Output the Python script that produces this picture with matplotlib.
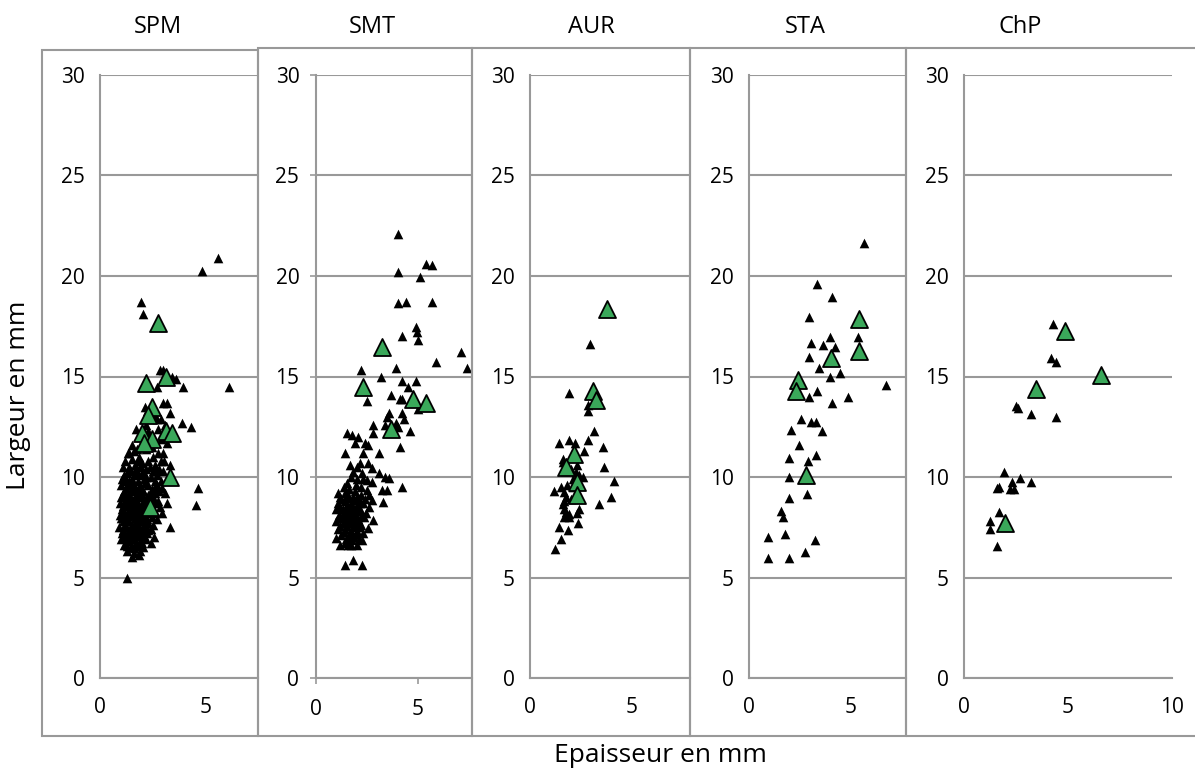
import numpy as np
import matplotlib
matplotlib.use("Agg")
import matplotlib.pyplot as plt
from matplotlib.patches import Rectangle

# ---- data (epaisseur, largeur) ----
spm_black = [
    (5.6, 20.9), (4.86, 20.25), (1.95, 18.7), (2.05, 18.1), (2.86, 15.3), (3.0, 15.3),
    (3.43, 15.0), (3.6, 14.9), (2.7, 14.5), (3.95, 14.5), (6.1, 14.5), (3.2, 13.7),
    (3.0, 13.7), (2.14, 13.5), (3.33, 13.2), (3.9, 12.7), (4.3, 12.5), (4.67, 9.45),
    (4.57, 8.6), (3.3, 7.5), (1.29, 5.0), (1.86, 6.1),
    (2.6, 13.0), (2.9, 12.9), (2.2, 12.6), (2.75, 12.4), (3.1, 12.6), (1.7, 12.4),
    (2.3, 12.3), (2.9, 11.9), (3.5, 12.0), (2.6, 11.8), (1.9, 11.5), (1.4, 11.2),
    (1.6, 11.3), (2.2, 11.4), (3.0, 11.2), (2.5, 11.0), (1.33, 11.2), (2.6, 10.6),
    (3.33, 10.6), (2.95, 9.45), (3.2, 8.7), (2.95, 8.2),
    (1.2, 10.8), (1.5, 10.9), (1.8, 10.8), (2.0, 10.7), (2.3, 10.8), (1.1, 10.5),
    (1.4, 10.5), (1.7, 10.4), (1.9, 10.5), (2.2, 10.4), (2.5, 10.3), (2.8, 10.4),
    (3.0, 10.3), (1.3, 10.2), (1.6, 10.1), (2.0, 10.1), (2.4, 10.0), (2.7, 10.1),
    (1.05, 9.9), (1.5, 9.9), (1.8, 9.8), (2.1, 9.9), (2.9, 9.8),
    (1.0, 9.6), (1.3, 9.6), (1.6, 9.5), (1.9, 9.6), (2.3, 9.6), (2.6, 9.5),
    (1.15, 9.3), (1.45, 9.3), (1.75, 9.2), (2.05, 9.3), (2.4, 9.2), (2.8, 9.3),
    (1.0, 9.0), (1.3, 9.0), (1.6, 8.9), (1.9, 9.0), (2.2, 8.9), (2.5, 9.0), (2.75, 8.8),
    (0.95, 8.7), (1.2, 8.6), (1.5, 8.7), (1.8, 8.6), (2.1, 8.6), (2.4, 8.5),
    (1.05, 8.4), (1.35, 8.3), (1.65, 8.4), (1.95, 8.3), (2.25, 8.3), (2.6, 8.2),
    (0.95, 8.1), (1.25, 8.0), (1.55, 8.1), (1.85, 8.0), (2.15, 8.0), (2.45, 8.0),
    (1.1, 7.8), (1.4, 7.8), (1.7, 7.7), (2.0, 7.8), (2.3, 7.7), (2.7, 7.9),
    (0.9, 7.5), (1.2, 7.5), (1.5, 7.4), (1.8, 7.5), (2.1, 7.4), (2.4, 7.4),
    (1.05, 7.2), (1.35, 7.1), (1.65, 7.2), (1.95, 7.1), (2.25, 7.2), (2.55, 7.0),
    (1.0, 6.9), (1.3, 6.8), (1.6, 6.9), (1.9, 6.8), (2.2, 6.9),
    (1.15, 6.6), (1.45, 6.5), (1.75, 6.6), (2.05, 6.5), (1.3, 6.3), (1.6, 6.2),
    (1.9, 6.3), (1.5, 6.0), (1.2, 6.95), (2.4, 6.7),
    (1.4, 9.8), (1.7, 9.0), (2.0, 8.5), (1.5, 8.5), (1.8, 8.2), (1.3, 7.9), (1.6, 7.6),
    (1.9, 7.3), (1.5, 7.0), (2.0, 9.4), (2.2, 10.0), (1.65, 10.6), (1.25, 9.8),
    (2.35, 8.7), (1.1, 8.2), (2.6, 9.8), (2.9, 10.8), (1.85, 11.0), (2.1, 11.7),
    (3.1, 9.2), (2.85, 8.5),
    (1.15, 10.1), (1.45, 10.3), (1.75, 10.2), (2.05, 10.3), (2.35, 10.5), (2.65, 10.3),
    (1.25, 9.45), (1.55, 9.7), (1.85, 9.45), (2.15, 9.7), (2.45, 9.4), (2.7, 9.6),
    (1.1, 9.15), (1.4, 9.15), (1.7, 9.35), (2.0, 9.15), (2.3, 9.1), (2.6, 9.2),
    (1.2, 8.85), (1.45, 8.9), (1.75, 8.8), (2.05, 8.75), (2.35, 8.9), (2.6, 8.7),
    (1.1, 8.55), (1.35, 8.6), (1.65, 8.6), (1.95, 8.55), (2.25, 8.55), (2.5, 8.4),
    (1.15, 8.25), (1.45, 8.2), (1.75, 8.3), (2.05, 8.15), (2.35, 8.2), (1.0, 7.95),
    (1.35, 8.05), (1.65, 7.95), (1.95, 7.9), (2.25, 7.9), (1.2, 7.65), (1.5, 7.6),
    (1.8, 7.65), (2.1, 7.6), (2.5, 7.6), (1.1, 7.35), (1.4, 7.35), (1.7, 7.4),
    (2.0, 7.3), (2.3, 7.35), (1.2, 7.1), (1.5, 7.2), (1.8, 7.05), (2.1, 7.05),
    (1.4, 6.8), (1.7, 6.75), (2.0, 6.7), (1.3, 6.55), (1.6, 6.45), (1.9, 6.55),
    (1.75, 11.4), (2.45, 11.5), (2.75, 11.2), (1.5, 11.6), (3.05, 10.8), (1.95, 12.0),
    (2.7, 12.9), (3.2, 11.7),
]
spm_green = [(2.76, 17.65), (3.14, 15.0), (2.2, 14.7), (2.48, 13.5), (2.3, 13.1),
             (2.0, 12.2), (3.14, 12.3), (3.43, 12.2), (2.48, 11.9), (2.1, 11.7),
             (3.3, 10.0), (2.38, 8.5)]

smt_black = [
    (4.0, 22.1), (4.0, 20.2), (5.4, 20.6), (5.7, 20.55), (5.1, 19.95), (4.0, 18.65),
    (4.4, 18.7), (5.7, 18.7), (4.2, 17.0), (4.9, 17.45), (4.95, 17.2), (5.0, 16.8),
    (7.1, 16.2), (5.9, 15.7), (7.4, 15.4), (2.2, 15.3), (3.9, 15.4), (3.2, 15.0),
    (4.2, 14.8), (4.9, 14.8), (4.5, 14.5), (2.5, 13.8), (3.7, 14.1), (4.1, 13.9),
    (4.2, 13.9), (5.0, 13.4), (3.6, 13.2), (3.5, 13.0), (4.2, 13.2), (4.3, 12.9),
    (3.4, 12.6), (3.9, 12.7), (4.0, 12.5), (2.8, 12.6), (2.8, 12.2), (4.6, 12.3),
    (1.5, 12.2), (1.76, 12.1), (2.06, 12.0), (1.9, 11.7), (2.4, 11.7), (2.55, 11.6),
    (4.1, 11.5), (1.42, 11.2), (2.3, 11.2), (3.1, 11.2), (1.67, 10.6), (2.16, 10.7),
    (2.55, 10.7), (2.75, 10.45), (3.1, 10.2), (3.4, 10.0), (3.6, 9.95), (4.2, 9.5),
    (1.8, 10.25), (2.25, 10.2), (2.5, 9.85), (2.75, 9.75), (3.24, 9.35), (3.5, 9.35),
    (3.3, 8.75), (1.1, 9.2), (1.52, 9.7), (2.0, 9.0), (2.5, 9.35), (2.75, 8.85),
    (2.8, 7.85), (2.55, 7.45), (1.0, 6.95), (1.57, 6.6), (2.25, 6.85), (1.42, 5.6),
    (1.8, 5.85), (2.25, 5.6),
    (1.2, 9.0), (1.5, 9.1), (1.8, 9.0), (2.2, 9.1), (1.1, 8.7), (1.4, 8.8), (1.7, 8.7),
    (2.0, 8.6), (2.3, 8.7), (2.6, 8.5), (1.0, 8.4), (1.3, 8.4), (1.6, 8.3), (1.9, 8.3),
    (2.2, 8.3), (2.45, 8.2), (1.15, 8.1), (1.45, 8.0), (1.75, 8.0), (2.05, 7.9),
    (2.35, 8.0), (1.0, 7.8), (1.3, 7.7), (1.6, 7.7), (1.9, 7.6), (2.2, 7.6), (1.1, 7.4),
    (1.4, 7.4), (1.7, 7.3), (2.0, 7.3), (2.3, 7.2), (1.25, 7.1), (1.55, 7.0),
    (1.85, 7.0), (2.1, 6.9), (1.4, 6.7), (1.7, 6.6), (2.0, 6.6), (1.2, 6.6), (1.9, 7.8),
    (1.5, 8.5), (2.1, 8.9), (1.6, 9.4), (1.95, 9.6), (2.3, 9.9), (2.0, 10.5),
    (1.35, 9.5), (2.6, 9.1), (1.75, 8.5), (1.3, 8.1),
    (1.25, 8.9), (1.55, 8.95), (1.85, 8.85), (2.15, 8.7), (1.2, 8.5), (1.5, 8.6),
    (1.8, 8.45), (2.1, 8.4), (1.35, 8.25), (1.65, 8.15), (1.95, 8.1), (2.25, 8.1),
    (1.2, 7.95), (1.5, 7.85), (1.8, 7.8), (2.1, 7.75), (1.2, 7.55), (1.5, 7.55),
    (1.8, 7.5), (2.1, 7.5), (1.35, 7.25), (1.65, 7.15), (1.95, 7.15), (1.45, 6.9),
    (1.75, 6.85), (1.6, 9.0), (1.9, 9.3), (2.2, 9.5), (1.4, 9.2), (2.4, 8.9),
    (1.7, 10.0), (2.0, 9.9),
]
smt_green = [(3.24, 16.45), (2.3, 14.5), (4.75, 13.9), (5.4, 13.7), (3.7, 12.4)]

aur_black = [
    (2.94, 16.6), (1.9, 14.2), (2.83, 13.56), (2.83, 13.3), (3.15, 12.3), (1.4, 11.7),
    (1.9, 11.85), (2.22, 11.7), (2.83, 11.85), (3.56, 11.5), (2.63, 11.3), (1.6, 10.75),
    (1.76, 10.7), (3.64, 10.5), (2.25, 10.25), (2.42, 10.08), (2.58, 10.0), (4.13, 9.8),
    (1.19, 9.3), (1.68, 9.25), (1.76, 9.0), (2.0, 8.93), (3.97, 9.0), (3.37, 8.64),
    (1.6, 8.68), (1.68, 8.43), (1.76, 8.26), (1.93, 8.18), (2.42, 8.43), (2.29, 8.2),
    (1.68, 8.0), (1.93, 8.0), (1.44, 7.5), (1.85, 7.38), (2.34, 7.7), (1.52, 6.9),
    (1.23, 6.44), (1.6, 10.9), (1.7, 10.3), (2.0, 10.4), (1.5, 9.5), (1.8, 9.6),
    (2.1, 9.5), (1.65, 8.8), (2.3, 10.6), (2.1, 9.9),
]
aur_green = [(3.8, 18.36), (3.07, 14.3), (3.24, 13.84), (2.17, 11.16), (1.76, 10.5),
             (2.29, 9.75), (2.29, 9.1)]

sta_black = [
    (5.68, 21.66), (3.37, 19.59), (4.08, 18.97), (2.96, 17.98), (3.98, 16.99),
    (5.38, 16.99), (3.08, 16.69), (3.65, 16.57), (4.25, 16.46), (2.96, 15.99),
    (3.46, 15.41), (4.48, 15.17), (3.98, 14.97), (6.78, 14.59), (3.37, 14.26),
    (2.96, 13.97), (4.89, 13.97), (4.08, 13.68), (2.58, 12.88), (3.08, 12.72),
    (3.29, 12.72), (2.09, 12.35), (3.59, 12.27), (2.47, 11.61), (1.98, 10.94),
    (3.29, 11.11), (2.93, 10.81), (1.98, 9.98), (2.88, 9.16), (1.98, 8.96), (1.56, 8.29),
    (1.68, 8.0), (0.95, 7.0), (1.78, 7.17), (3.26, 6.89), (2.77, 6.27), (0.95, 5.98),
    (1.98, 5.98),
]
sta_green = [(5.43, 17.86), (5.43, 16.27), (4.03, 15.94), (2.42, 14.83), (2.3, 14.29),
             (2.83, 10.12)]

chp_black = [
    (4.29, 17.6), (4.2, 15.9), (4.4, 15.7), (2.5, 13.55), (2.6, 13.45), (3.2, 13.13),
    (4.4, 12.97), (1.9, 10.25), (2.7, 9.95), (2.3, 9.75), (3.2, 9.75), (1.6, 9.45),
    (1.7, 9.5), (2.23, 9.38), (2.4, 9.38), (1.7, 8.25), (1.27, 7.83), (1.27, 7.42),
    (1.6, 6.58),
]
chp_green = [(4.87, 17.28), (6.6, 15.08), (3.47, 14.4), (1.98, 7.72)]

sites = ["SPM", "SMT", "AUR", "STA", "ChP"]
black_pts = [spm_black, smt_black, aur_black, sta_black, chp_black]
green_pts = [spm_green, smt_green, aur_green, sta_green, chp_green]
x_max = [7.5, 7.65, 7.85, 7.75, 10]
x_ticks = [[0, 5], [0, 5], [0, 5], [0, 5], [0, 5, 10]]
y_ticks = [0, 5, 10, 15, 20, 25, 30]

# ---- layout in pixels ----
W, H = 1195, 771
plot_left = [100, 316, 530, 749, 964]
plot_right = [258, 472, 690, 906, 1172]
plot_top, plot_bottom = 75, 678
frame_left = [42, 258, 472, 690, 906]
frame_right = [258, 472, 690, 906, 1205]
frame_top = [50, 48, 48, 48, 48]
frame_bottom = 736
title_x = [158, 372, 591, 805, 1020]

GRAY = "#999999"
GREEN = "#3aa85a"

plt.rcParams['font.family'] = ['Open Sans', 'DejaVu Sans']

fig = plt.figure(figsize=(W / 100, H / 100), dpi=100)


def fx(px):
    return px / W


def fy(py):
    return 1 - py / H


for i, name in enumerate(sites):
    ax = fig.add_axes([fx(plot_left[i]), fy(plot_bottom),
                       (plot_right[i] - plot_left[i]) / W, (plot_bottom - plot_top) / H])
    ax.set_xlim(0, x_max[i])
    ax.set_ylim(0, 30)
    ax.set_xticks(x_ticks[i])
    ax.set_yticks(y_ticks)
    ax.grid(axis='y', color=GRAY, lw=1.5)
    ax.set_axisbelow(True)
    for s in ['top', 'right']:
        ax.spines[s].set_visible(False)
    for s in ['left', 'bottom']:
        ax.spines[s].set_color(GRAY)
        ax.spines[s].set_linewidth(1.5)
    if name == "SMT":
        ax.tick_params(length=4, width=1.2, color=GRAY, labelsize=15)
        ax.tick_params(axis='y', pad=8)
        ax.tick_params(axis='x', pad=11)
    else:
        ax.tick_params(length=0, labelsize=15)
        ax.tick_params(axis='y', pad=11)
        ax.tick_params(axis='x', pad=14)

    bx, by = np.array(black_pts[i]).T
    ax.scatter(bx, by, marker='^', s=48, c='black', lw=0, zorder=2)
    gx, gy = np.array(green_pts[i]).T
    ax.scatter(gx, gy, marker='^', s=150, c=GREEN, edgecolors='black', lw=1.3, zorder=3)

    fig.text(fx(title_x[i]), fy(27), name, ha='center', va='center', fontsize=17)
    fig.add_artist(Rectangle((fx(frame_left[i]), fy(frame_bottom)),
                             (frame_right[i] - frame_left[i]) / W,
                             (frame_bottom - frame_top[i]) / H,
                             transform=fig.transFigure, fill=False, ec=GRAY, lw=1.5))

fig.text(fx(19), fy(395), "Largeur en mm", rotation=90, ha='center', va='center', fontsize=19)
fig.text(fx(660), fy(756), "Epaisseur en mm", ha='center', va='center', fontsize=19)

fig.savefig("out.png", dpi=100, facecolor='white')
